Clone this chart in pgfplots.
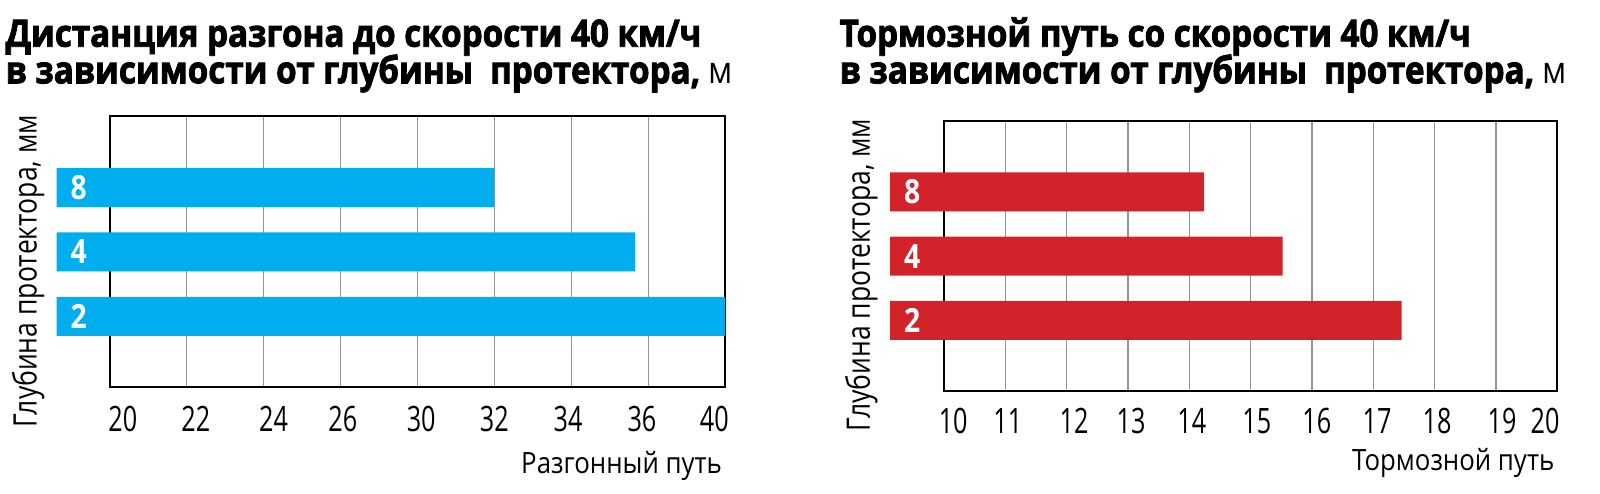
\documentclass[border=0pt]{standalone}
\usepackage{fontspec}
\setmainfont{Open Sans}[FakeStretch=0.72]
\newfontfamily\titlefont{Open Sans}[FakeStretch=0.88, BoldFeatures={FakeBold=2.2}]
\newfontfamily\labfont{Open Sans}[FakeStretch=0.88]
\newfontfamily\ylabfont{Open Sans}[FakeStretch=0.82]
\newfontfamily\barfont{Open Sans}[FakeStretch=0.85]
\usepackage{pgfplots}
\pgfplotsset{compat=1.18}
\definecolor{barblue}{RGB}{0,174,239}
\definecolor{barred}{RGB}{210,35,42}
\definecolor{gridgray}{RGB}{150,150,150}

\pgfplotsset{
  tirestyle/.style={
    scale only axis, clip=false, axis on top=false,
    anchor=south west,
    xmin=0,
    ymin=-0.095, ymax=4.12, ytick=\empty,
    major tick length=0pt, minor tick length=0pt,
    xmajorgrids=false, xminorgrids=true,
    minor grid style={gridgray, line width=0.35pt},
    axis line style={draw=none},
    /pgf/number format/assume math mode=true,
    xticklabel style={font=\fontsize{10.5}{12}\selectfont, anchor=base, inner sep=0pt},
    xlabel style={font=\labfont\fontsize{8.8}{10}\selectfont, at={(axis description cs:1,0)}, anchor=base east, inner sep=0pt},
    ylabel style={font=\ylabfont\fontsize{9.7}{11}\selectfont, anchor=base west, inner sep=0pt},
    barlabel/.style={draw=none, mark=none, nodes near coords, point meta=explicit symbolic,
      nodes near coords style={anchor=west, inner sep=0pt, xshift=4pt, text=white,
        font=\barfont\bfseries\fontsize{10}{11}\selectfont}},
  }
}

\begin{document}
\begin{tikzpicture}
\useasboundingbox (0,0) rectangle (480pt,-147.9pt);

% titles
\node[anchor=base west, inner sep=0pt] at (1.5pt,-14pt)
  {\titlefont\bfseries\fontsize{11.3}{13}\selectfont Дистанция разгона до скорости 40 км/ч};
\node[anchor=base west, inner sep=0pt] at (1.5pt,-25pt)
  {\titlefont\bfseries\fontsize{11.3}{13}\selectfont в зависимости от глубины\ \ протектора, {\mdseries м}};
\node[anchor=base west, inner sep=0pt] at (251.7pt,-14pt)
  {\titlefont\bfseries\fontsize{11.3}{13}\selectfont Тормозной путь со скорости 40 км/ч};
\node[anchor=base west, inner sep=0pt] at (251.7pt,-25pt)
  {\titlefont\bfseries\fontsize{11.3}{13}\selectfont в зависимости от глубины\ \ протектора, {\mdseries м}};

% left chart: x in tick-index units (ticks labelled 20,22,24,26,30,32,34,36,40), shifted by 0.69
\begin{axis}[tirestyle,
  at={(17pt,-116pt)}, width=200.5pt, height=81.3pt,
  xmax=8.69,
  minor xtick={1.69,2.69,3.69,4.69,5.69,6.69,7.69},
  xtick={0.86,1.81,2.82,3.72,4.74,5.69,6.65,7.61,8.55},
  xticklabels={20,22,24,26,30,32,34,36,40},
  xticklabel style={yshift=-13.5pt},
  xlabel={Разгонный путь},
  xlabel style={yshift=-26pt, xshift=-0.7pt},
  ylabel={Глубина протектора, мм},
  ylabel style={at={(axis description cs:-0.0299,-0.1524)}},
]
\draw[line width=0.65pt] (axis cs:0.69,-0.095) rectangle (axis cs:8.69,4.12);
\addplot[xbar, bar width=0.606, bar shift=0pt, fill=barblue, draw=none,
  x filter/.expression={x+0.69}]
  coordinates {(5,3) (6.83,2) (8,1)};
\addplot[barlabel, x filter/.expression={x+0.69}]
  coordinates {(-0.69,3) [8] (-0.69,2) [4] (-0.69,1) [2]};
\end{axis}

% right chart: x in metres, shifted by -9.12 so bars start at 0
\begin{axis}[tirestyle,
  at={(267pt,-117.2pt)}, width=200.2pt, height=81.2pt,
  xmax=10.88,
  minor xtick={1.88,2.88,3.88,4.88,5.88,6.88,7.88,8.88,9.88},
  xtick={1.03,1.92,3.0,3.93,4.92,5.98,6.96,7.94,8.92,9.98,10.68},
  xticklabels={10,11,12,13,14,15,16,17,18,19,20},
  xticklabel style={yshift=-12.8pt},
  xlabel={Тормозной путь},
  xlabel style={yshift=-24pt, xshift=-0.7pt},
  ylabel={Глубина протектора, мм},
  ylabel style={at={(axis description cs:-0.030,-0.1515)}},
]
\draw[line width=0.65pt] (axis cs:0.88,-0.098) rectangle (axis cs:10.88,4.106);
\addplot[xbar, bar width=0.606, bar shift=0pt, fill=barred, draw=none,
  x filter/.expression={x-9.12}]
  coordinates {(14.24,3) (15.52,2) (17.46,1)};
\addplot[barlabel, x filter/.expression={x-9.12}]
  coordinates {(9.12,3) [8] (9.12,2) [4] (9.12,1) [2]};
\end{axis}
\end{tikzpicture}
\end{document}
